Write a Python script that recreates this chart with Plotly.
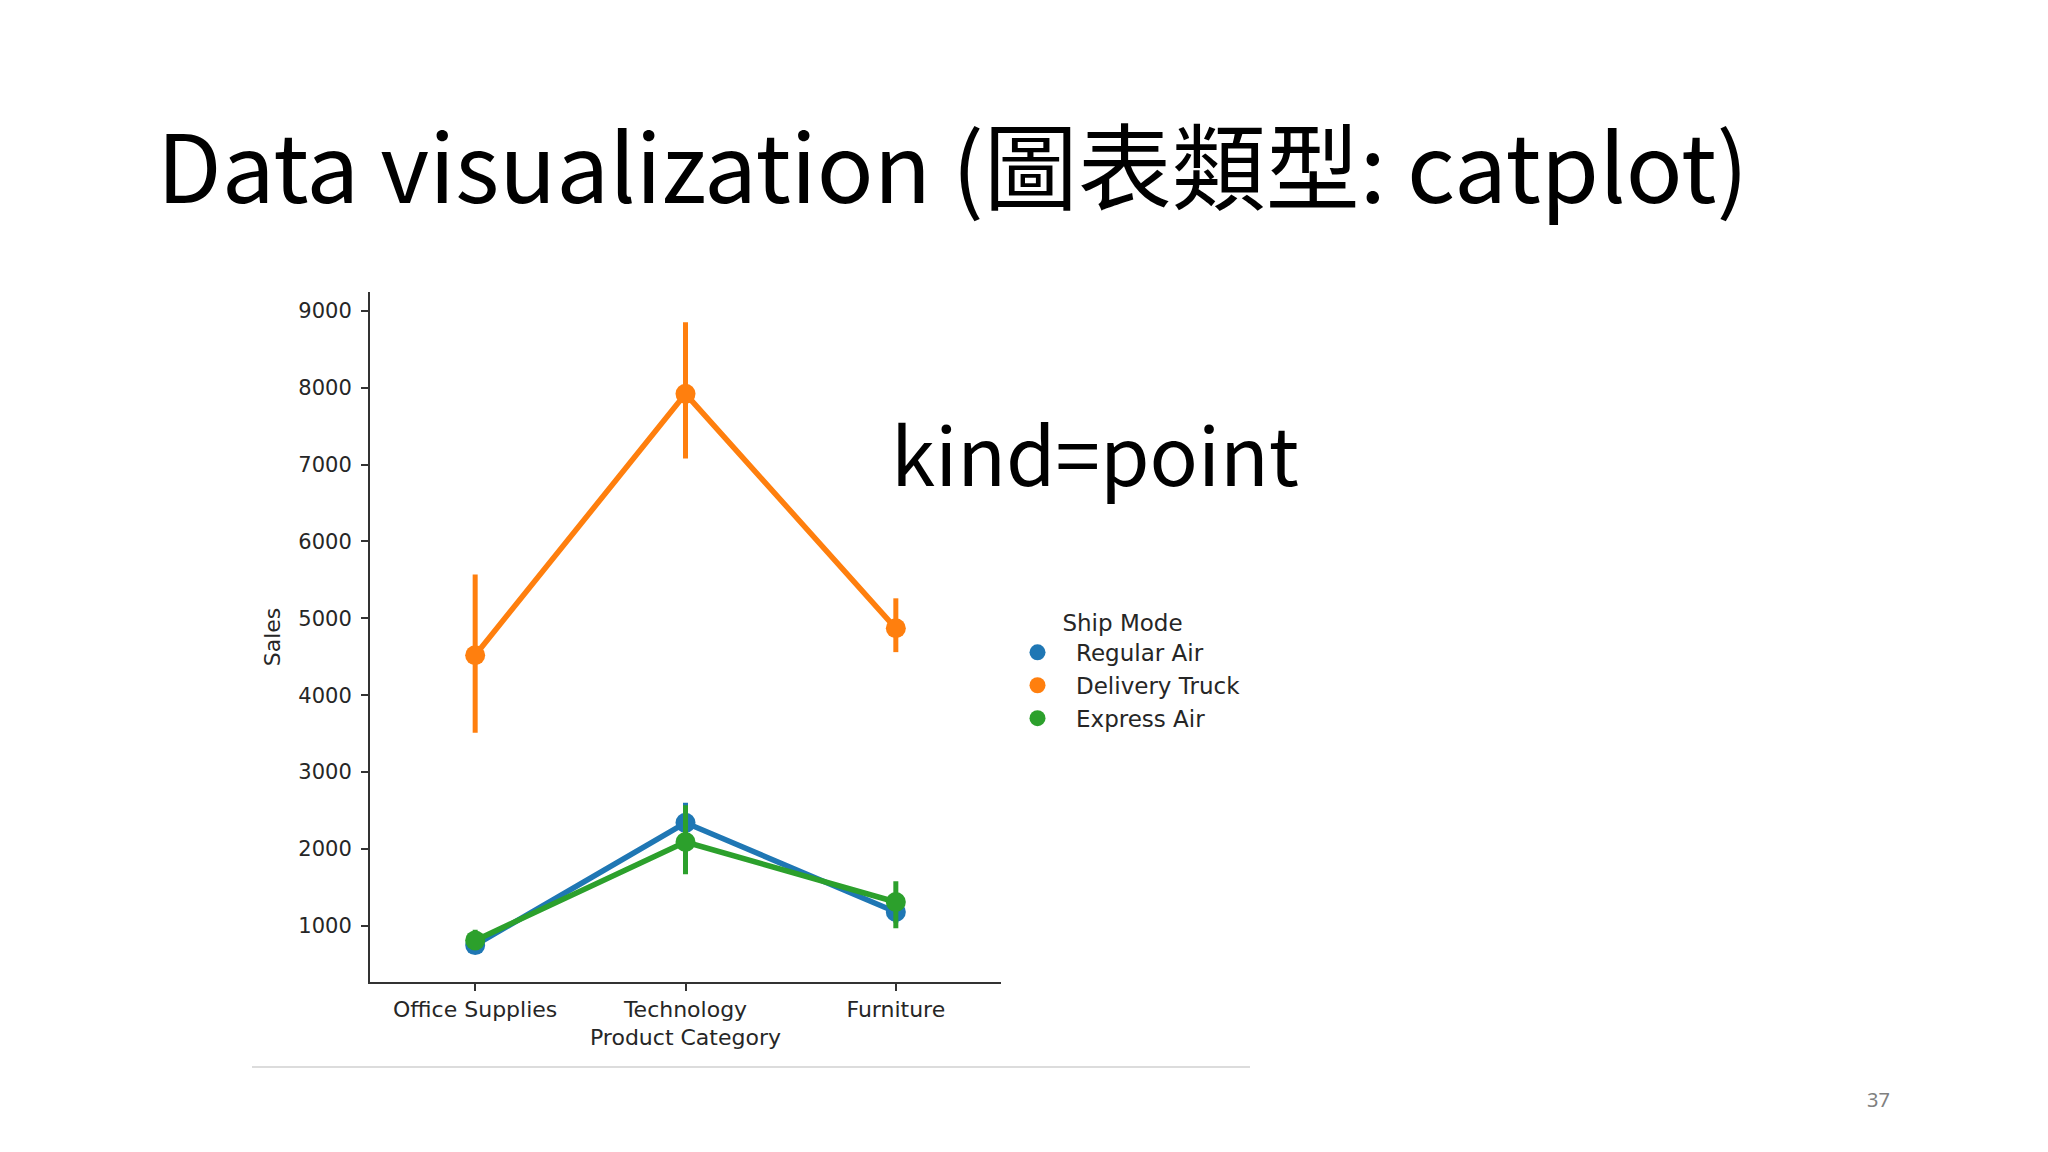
import plotly.graph_objects as go

# ---- data ----
categories = ["Office Supplies", "Technology", "Furniture"]
ship_modes = ["Regular Air", "Delivery Truck", "Express Air"]
colors = ["#1f77b4", "#ff7f0e", "#2ca02c"]

regular_air = [750, 2340, 1180]
regular_air_lo = [680, 2100, 1040]
regular_air_hi = [830, 2600, 1350]

delivery_truck = [4520, 7920, 4870]
delivery_truck_lo = [3510, 7080, 4560]
delivery_truck_hi = [5570, 8850, 5260]

express_air = [810, 2090, 1310]
express_air_lo = [700, 1670, 970]
express_air_hi = [950, 2570, 1580]

y_ticks = [1000, 2000, 3000, 4000, 5000, 6000, 7000, 8000, 9000]

series = [
    (regular_air, regular_air_lo, regular_air_hi),
    (delivery_truck, delivery_truck_lo, delivery_truck_hi),
    (express_air, express_air_lo, express_air_hi),
]

PAGE_W, PAGE_H = 2048, 1152
OFF = 8  # default body margin of the html page
W, H = PAGE_W - 2 * OFF, PAGE_H - 2 * OFF
TXT = "#262626"
AX = "#333333"

fig = go.Figure()
for name, col, (m, lo, hi) in zip(ship_modes, colors, series):
    fig.add_trace(go.Scatter(
        x=categories, y=m, mode="lines+markers", name=name, showlegend=False,
        line=dict(color=col, width=5.5),
        marker=dict(color=col, size=20),
        error_y=dict(type="data", symmetric=False,
                     array=[h - v for h, v in zip(hi, m)],
                     arrayminus=[v - l for v, l in zip(m, lo)],
                     color=col, thickness=5, width=0),
    ))
for name, col in zip(ship_modes, colors):
    fig.add_trace(go.Scatter(
        x=[None], y=[None], mode="markers", name=name, showlegend=True,
        marker=dict(color=col, size=16),
    ))

def px(x):
    return (x - OFF) / W

def py(y):
    return 1 - (y - OFF) / H

fig.update_layout(
    width=W, height=H,
    margin=dict(l=0, r=0, t=0, b=0),
    paper_bgcolor="white", plot_bgcolor="white",
    font=dict(family="DejaVu Sans", color=TXT, size=22),
    xaxis=dict(
        domain=[px(370), px(1001)], type="category", range=[-0.5, 2.5],
        showline=True, linecolor=AX, linewidth=2, mirror=False,
        ticks="outside", ticklen=7, tickwidth=2, tickcolor=AX,
        showgrid=False, zeroline=False,
        tickfont=dict(size=22, color=TXT),
        title=dict(text="Product Category", font=dict(size=22, color=TXT), standoff=9),
    ),
    yaxis=dict(
        domain=[py(981.5), py(292.4)], range=[276, 9239],
        tickvals=y_ticks, tickformat="d",
        showline=True, linecolor=AX, linewidth=2, mirror=False,
        ticks="outside", ticklen=7, tickwidth=2, tickcolor=AX,
        ticklabelstandoff=5,
        showgrid=False, zeroline=False,
        tickfont=dict(size=21, color=TXT),
        title=dict(text="Sales", font=dict(size=22, color=TXT), standoff=12),
    ),
    legend=dict(
        x=px(999), y=py(601), xanchor="left", yanchor="top",
        bgcolor="rgba(0,0,0,0)",
        itemwidth=67,
        font=dict(size=23, color=TXT, family="DejaVu Sans"),
        title=dict(text="Ship Mode", side="top center", font=dict(size=23, color=TXT)),
        itemclick=False,
    ),
    showlegend=True,
)

# slide title and text
fig.add_annotation(
    text="Data visualization (圖表類型: catplot)", xref="paper", yref="paper",
    x=px(155), y=py(162), xanchor="left", yanchor="middle", showarrow=False,
    font=dict(family="Noto Sans CJK TC", size=94, color="#000000"),
)
fig.add_annotation(
    text="kind=point", xref="paper", yref="paper",
    x=px(889), y=py(451), xanchor="left", yanchor="middle", showarrow=False,
    font=dict(family="Noto Sans CJK TC", size=80, color="#000000"),
)
fig.add_annotation(
    text="37", xref="paper", yref="paper",
    x=px(1878), y=py(1099), xanchor="center", yanchor="middle", showarrow=False,
    font=dict(family="Noto Sans", size=20, color="#808080"),
)
# thin border line under the embedded chart image
fig.add_shape(type="line", xref="paper", yref="paper",
              x0=px(252), x1=px(1250), y0=py(1067), y1=py(1067),
              line=dict(color="#d0d0d0", width=1.5))

fig.write_html("out.html")
